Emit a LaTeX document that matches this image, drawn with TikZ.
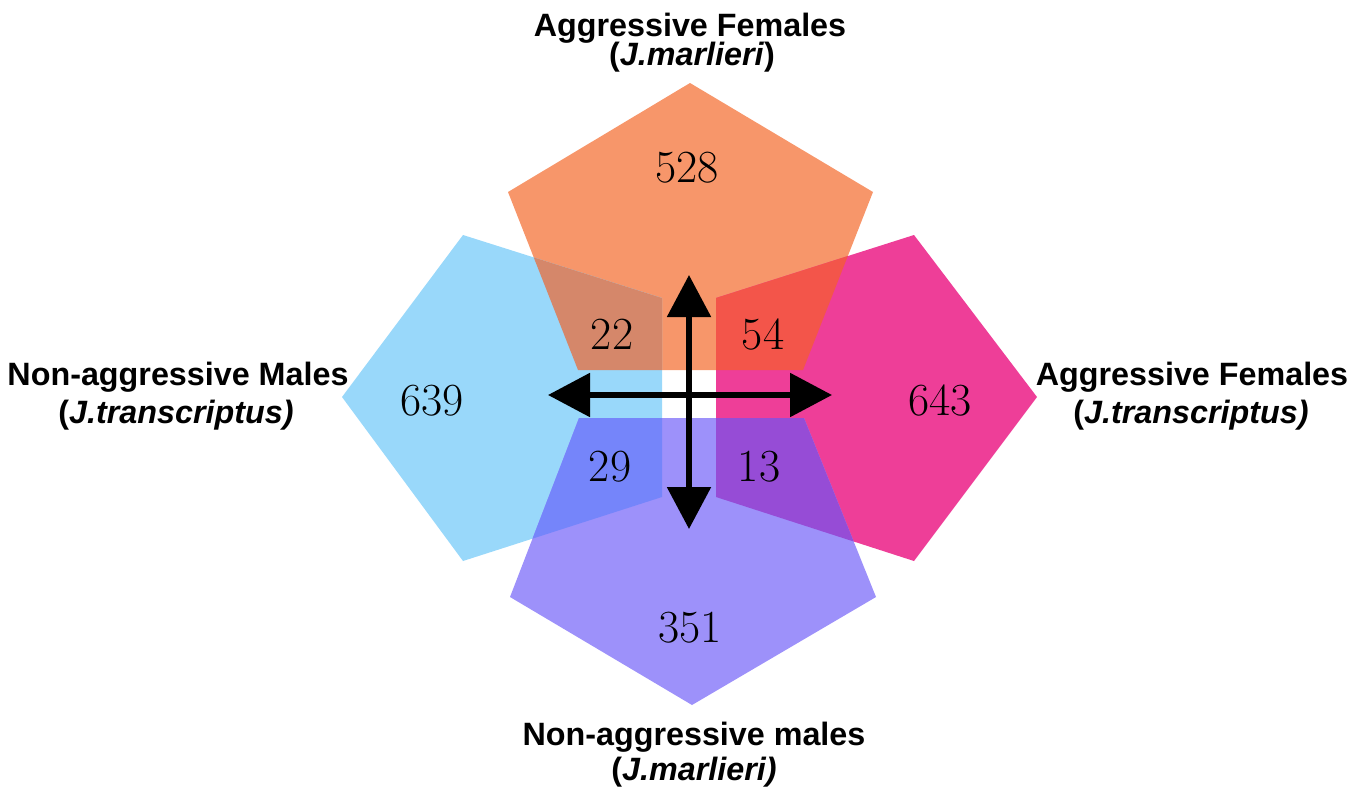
\documentclass[tikz,border=0pt]{standalone}
\usepackage{fontspec}
\newfontfamily\labfamily{Liberation Sans}
\usetikzlibrary{arrows.meta}
\newcommand\numfnt{\rmfamily\fontsize{46}{50}\selectfont}
\definecolor{cOr}{RGB}{247,150,106}
\definecolor{cBl}{RGB}{153,216,250}
\definecolor{cMg}{RGB}{238,62,152}
\definecolor{cPu}{RGB}{157,145,250}
\definecolor{cOrBl}{RGB}{213,135,106}
\definecolor{cOrMg}{RGB}{243,85,74}
\definecolor{cBlPu}{RGB}{117,133,250}
\definecolor{cMgPu}{RGB}{150,76,214}
\tikzset{
  pOr/.style={insert path={(690,83) -- (873,192) -- (803,370) -- (578,370) -- (508,192) -- cycle}},
  pBl/.style={insert path={(342,397) -- (463,235) -- (662,298) -- (662,497) -- (463,561) -- cycle}},
  pMg/.style={insert path={(1037,397) -- (914,235) -- (716,298) -- (716,497) -- (914,561) -- cycle}},
  pPu/.style={insert path={(579,418) -- (804,418) -- (876,597) -- (692,705) -- (510,597) -- cycle}},
  lab/.style={font=\labfamily\bfseries\fontsize{32.3}{38}\selectfont, inner sep=0pt, anchor=base},
  num/.style={font=\numfnt, inner sep=0pt, anchor=base},
  bigarrow/.style={line width=5.5pt, {Triangle[length=42pt,width=43pt]}-{Triangle[length=42pt,width=43pt]}}
}
\begin{document}
\begin{tikzpicture}[x=1pt,y=-1pt]
\useasboundingbox (0,0) rectangle (1370,798);
% base pentagons
\fill[cOr, pOr];
\fill[cBl, pBl];
\fill[cMg, pMg];
\fill[cPu, pPu];
% overlaps
\begin{scope}\clip[pOr]; \fill[cOrBl, pBl];\end{scope}
\begin{scope}\clip[pOr]; \fill[cOrMg, pMg];\end{scope}
\begin{scope}\clip[pPu]; \fill[cBlPu, pBl];\end{scope}
\begin{scope}\clip[pPu]; \fill[cMgPu, pMg];\end{scope}
% numbers
\node[num] (n528) at (687,182) {528};
\node[num] (n22) at (612,349) {22};
\node[num] (n54) at (763,349) {54};
\node[num] (n29) at (610,481) {29};
\node[num] (n13) at (759,481) {13};
\node[num] (n639) at (432,415) {639};
\node[num] (n643) at (940,415) {643};
\node[num] (n351) at (690,642) {351};
% arrows
\coordinate (aL) at (548,395);
\coordinate (aR) at (832,395);
\coordinate (aT) at (689,275);
\coordinate (aB) at (689,529);
\draw[bigarrow] (aL) -- (aR);
\draw[bigarrow] (aT) -- (aB);
% labels
\node[lab] (topA) at (690,36) {Aggressive Females};
\node[lab] (topB) at (692,65) {(\textit{J.marlieri})};
\node[lab] (leftA) at (178,385) {Non-aggressive Males};
\node[lab] (leftB) at (176,423) {(\textit{J.transcriptus)}};
\node[lab] (rightA) at (1192,385) {Aggressive Females};
\node[lab] (rightB) at (1191,423) {(\textit{J.transcriptus)}};
\node[lab] (botA) at (694,745) {Non-aggressive males};
\node[lab] (botB) at (694,780) {(\textit{J.marlieri)}};
\end{tikzpicture}
\end{document}
